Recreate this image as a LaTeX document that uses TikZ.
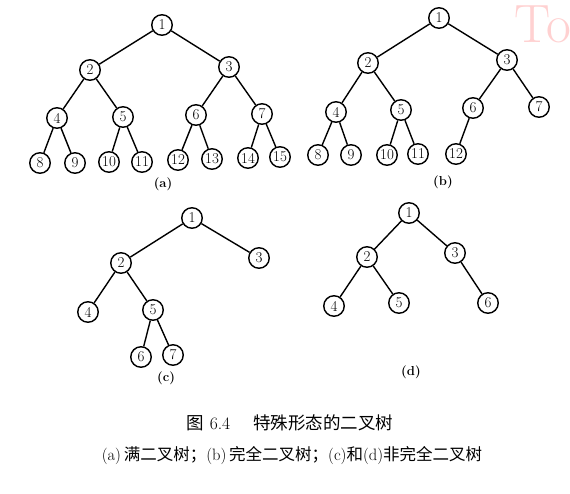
\documentclass[tikz,border=0pt]{standalone}
\usepackage{fontspec}
\newfontfamily\cjk{Noto Sans CJK SC}
\begin{document}
\begin{tikzpicture}[x=1pt,y=-1pt,
  tn/.style={circle,draw,line width=1.4pt,minimum size=20.5pt,inner sep=0pt,font=\fontsize{15}{15}\selectfont},
  ed/.style={line width=1.4pt},
  lab/.style={font=\fontsize{13}{13}\selectfont\bfseries},
  captext/.style={font=\fontsize{16.5}{16.5}\selectfont}]
\clip (0,0) rectangle (570,494);
\fill[white] (0,0) rectangle (570,494);
% watermark
\node[anchor=west,text=red!18!white,font=\fontsize{54}{54}\selectfont,inner sep=0pt] (wm) at (514,24) {To};
% tree (a)
\node[tn] (a1) at (162,25) {1};
\node[tn] (a2) at (90,70) {2};
\node[tn] (a3) at (229,67) {3};
\node[tn] (a4) at (57,118) {4};
\node[tn] (a5) at (123,117) {5};
\node[tn] (a6) at (196,115) {6};
\node[tn] (a7) at (262,114) {7};
\node[tn] (a8) at (40,163) {8};
\node[tn] (a9) at (75,163) {9};
\node[tn] (a10) at (109,162) {10};
\node[tn] (a11) at (142,162) {11};
\node[tn] (a12) at (178,160) {12};
\node[tn] (a13) at (212,159) {13};
\node[tn] (a14) at (248,158) {14};
\node[tn] (a15) at (280,157) {15};
\foreach \p/\c in {1/2,1/3,2/4,2/5,3/6,3/7,4/8,4/9,5/10,5/11,6/12,6/13,7/14,7/15}
  \draw[ed] (a\p) -- (a\c);
\node[lab] (la) at (163,184) {(a)};
% tree (b)
\node[tn] (b1) at (439,18) {1};
\node[tn] (b2) at (368,63) {2};
\node[tn] (b3) at (507,60) {3};
\node[tn] (b4) at (336,112) {4};
\node[tn] (b5) at (401,110) {5};
\node[tn] (b6) at (473,108) {6};
\node[tn] (b7) at (539,107) {7};
\node[tn] (b8) at (318,155) {8};
\node[tn] (b9) at (351,155) {9};
\node[tn] (b10) at (387,155) {10};
\node[tn] (b11) at (418,154) {11};
\node[tn] (b12) at (456,154) {12};
\foreach \p/\c in {1/2,1/3,2/4,2/5,3/6,3/7,4/8,4/9,5/10,5/11,6/12}
  \draw[ed] (b\p) -- (b\c);
\node[lab] (lb) at (443,182) {(b)};
% tree (c)
\node[tn] (c1) at (192,218) {1};
\node[tn] (c2) at (121,263) {2};
\node[tn] (c3) at (259,258) {3};
\node[tn] (c4) at (88,312) {4};
\node[tn] (c5) at (153,310) {5};
\node[tn] (c6) at (141,357) {6};
\node[tn] (c7) at (173,355) {7};
\foreach \p/\c in {1/2,1/3,2/4,2/5,5/6,5/7}
  \draw[ed] (c\p) -- (c\c);
\node[lab] (lc) at (166,378) {(c)};
% tree (d)
\node[tn] (d1) at (409,213) {1};
\node[tn] (d2) at (367,257) {2};
\node[tn] (d3) at (455,253) {3};
\node[tn] (d4) at (334,306) {4};
\node[tn] (d5) at (399,303) {5};
\node[tn] (d6) at (488,303) {6};
\foreach \p/\c in {1/2,1/3,2/4,2/5,3/6}
  \draw[ed] (d\p) -- (d\c);
\node[lab] (ld) at (411,372) {(d)};
% caption
\node[captext,font=\fontsize{17.5}{17.5}\selectfont] (cap1) at (290,423) {{\cjk 图}\ 6.4\quad\ {\cjk 特殊形态的二叉树}};
\node[captext] (cap2) at (292,456) {(a)\,{\cjk 满二叉树；}(b)\,{\cjk 完全二叉树；}(c){\cjk 和}(d){\cjk 非完全二叉树}};
\end{tikzpicture}
\end{document}
